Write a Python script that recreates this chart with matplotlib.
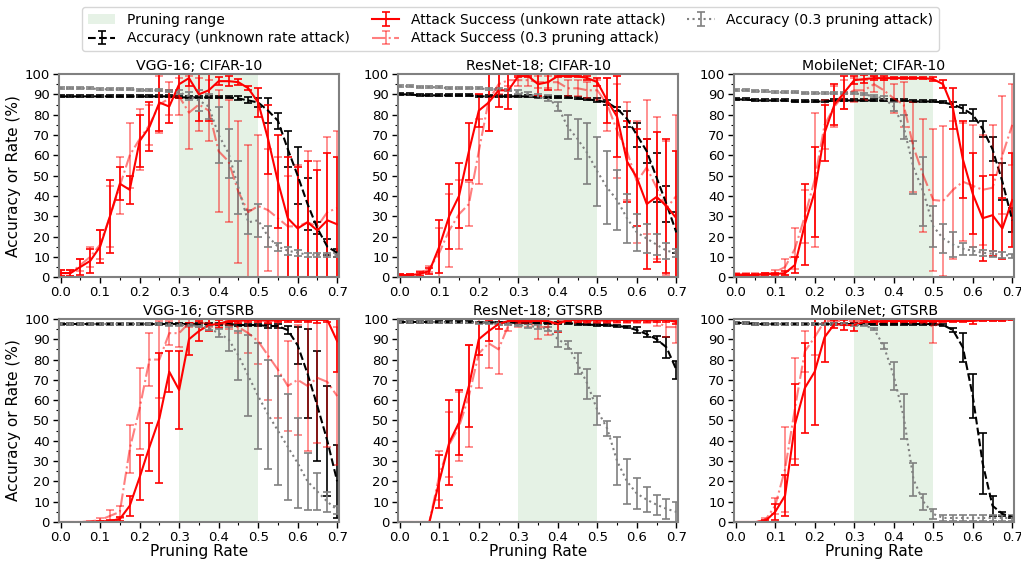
import matplotlib
matplotlib.use("Agg")
import matplotlib.pyplot as plt
from matplotlib.patches import Patch
from matplotlib.ticker import MultipleLocator

pruning_rates = [0.0, 0.025, 0.05, 0.075, 0.1, 0.125, 0.15, 0.175, 0.2, 0.225,
                 0.25, 0.275, 0.3, 0.325, 0.35, 0.375, 0.4, 0.425, 0.45, 0.475,
                 0.5, 0.525, 0.55, 0.575, 0.6, 0.625, 0.65, 0.675, 0.7]
x_ticks = [0.0, 0.1, 0.2, 0.3, 0.4, 0.5, 0.6, 0.7]
y_ticks = [0, 10, 20, 30, 40, 50, 60, 70, 80, 90, 100]
pruning_range = [0.3, 0.5]

titles = ["VGG-16; CIFAR-10", "ResNet-18; CIFAR-10", "MobileNet; CIFAR-10",
          "VGG-16; GTSRB", "ResNet-18; GTSRB", "MobileNet; GTSRB"]
labels = ["Pruning range", "Accuracy (unknown rate attack)",
          "Attack Success (unkown rate attack)", "Attack Success (0.3 pruning attack)",
          "Accuracy (0.3 pruning attack)"]

# ---------------- VGG-16; CIFAR-10 ----------------
vgg_c_atk_unk = [2, 2, 5, 8, 15, 30, 46, 43, 67, 74, 86, 84, 95, 98, 90, 92, 96.5, 96.5, 96, 93, 86, 68, 47, 29, 24, 27, 23, 28, 26]
vgg_c_atk_unk_err = [1.5, 1.5, 4, 6, 8, 18, 8, 7, 13, 12, 14, 8, 7, 4, 13, 15, 2, 2.5, 1.5, 1, 7, 17, 23, 30, 30, 30, 30, 33, 33]
vgg_c_atk_03 = [2, 2, 6, 10, 16, 30, 45, 60, 68, 75, 85, 88, 89, 81, 85, 82, 62, 57, 42, 32, 35, 33, 29, 25, 25, 27, 25, 32, 34]
vgg_c_atk_03_err = [1.5, 1.5, 3, 5, 7, 15, 14, 16, 15, 10, 14, 8, 9, 18, 13, 15, 30, 30, 35, 33, 35, 30, 30, 25, 30, 35, 32, 37, 38]
vgg_c_acc_unk = [89, 89, 89, 89, 89, 89, 89, 89, 89, 89, 89, 89, 88.5, 88.5, 88.5, 88.5, 88.5, 88.5, 88, 87, 86, 82, 77, 63, 50, 36, 24, 15, 12]
vgg_c_acc_unk_err = [0.5, 0.5, 0.5, 0.5, 0.5, 0.5, 0.5, 0.5, 0.5, 0.5, 0.5, 0.5, 0.5, 0.5, 0.5, 0.5, 0.5, 0.5, 1, 1.5, 2, 6, 4, 9, 14, 13, 3, 4, 2]
vgg_c_acc_03 = [93, 93, 93, 93, 92.5, 92.5, 92.5, 92.5, 92, 92, 92, 91.5, 91, 89, 87, 84, 70, 61, 44, 27, 28, 20, 15, 13, 12, 11, 11, 11, 11]
vgg_c_acc_03_err = [0.5, 0.5, 0.5, 0.5, 0.5, 0.5, 0.5, 0.5, 0.5, 0.5, 0.5, 0.5, 1, 2, 5, 6, 14, 12, 13, 6, 8, 5, 2, 2, 1.5, 1, 1, 1, 1]

# ---------------- ResNet-18; CIFAR-10 ----------------
res_c_atk_unk = [1, 1, 1.5, 3, 15, 30, 40, 62, 82, 86, 92, 92, 99, 99, 95, 96, 99, 99, 99, 98, 96, 87, 79, 57, 49, 36, 39.5, 35, 29]
res_c_atk_unk_err = [0.5, 0.5, 1, 1.5, 13, 16, 16, 14, 8, 14, 8, 9, 0.5, 0.5, 6, 4, 0.5, 0.5, 0.5, 1, 2, 11, 20, 20, 24, 32, 32, 33, 33]
res_c_atk_03 = [1, 1, 2, 4, 12, 23, 31, 36, 62, 87, 95, 97, 97, 97, 96, 96, 96, 93, 93, 92, 92, 85, 72, 62, 47, 54, 44, 34, 40]
res_c_atk_03_err = [0.5, 0.5, 1, 1.5, 12, 18, 17, 11, 16, 15, 5, 3, 3, 3, 3, 3, 4, 4, 4, 4, 5, 13, 23, 24, 30, 33, 35, 33, 40]
res_c_acc_unk = [90, 90, 89.5, 89.5, 89.5, 89.5, 89.5, 89.5, 89, 89, 89, 89, 89, 89, 88.5, 88.5, 88.5, 88.5, 88, 87.5, 87, 86, 83, 78, 70, 62, 49, 36, 22]
res_c_acc_unk_err = [0.5, 0.5, 0.5, 0.5, 0.5, 0.5, 0.5, 0.5, 0.5, 0.5, 0.5, 0.5, 0.5, 0.5, 0.5, 0.5, 0.5, 0.5, 0.5, 0.5, 1, 1, 1, 4, 6, 6, 12, 9, 10]
res_c_acc_03 = [94, 94, 93.5, 93.5, 93.5, 93, 93, 93, 93, 92.5, 92.5, 92, 91, 90, 89, 88, 84, 74, 68, 61, 52, 44, 38, 29, 22, 19, 16, 13, 12]
res_c_acc_03_err = [0.5, 0.5, 0.5, 0.5, 0.5, 0.5, 0.5, 0.5, 0.5, 0.5, 0.5, 0.5, 1, 1, 1, 1.5, 2, 6, 10, 15, 17, 18, 15, 12, 9, 7, 5, 4, 2]

# ---------------- MobileNet; CIFAR-10 ----------------
mob_c_atk_unk = [1, 1, 1, 1.5, 1.5, 2, 6, 26, 42, 71, 85, 91, 97, 97.5, 98, 98, 98, 98, 98, 98, 97.5, 95, 83, 58, 41, 29, 30.5, 24, 38]
mob_c_atk_unk_err = [0.5, 0.5, 0.5, 0.5, 0.5, 1, 4, 20, 22, 14, 10, 8, 2, 2, 1, 1, 0.5, 0.5, 0.5, 0.5, 1, 2, 10, 19, 20, 21, 20, 15, 23]
mob_c_atk_03 = [1.5, 1.5, 1.5, 1.5, 2.5, 5, 14, 30, 48, 75, 84, 90, 92, 92, 95, 92, 88, 85, 64, 50, 38, 37.5, 43, 47, 45, 43, 44, 60, 75]
mob_c_atk_03_err = [0.5, 0.5, 0.5, 0.5, 1, 4, 10, 13, 33, 12, 10, 7, 6, 5, 4, 5, 7, 11, 22, 28, 35, 37, 34, 29, 30, 27, 31, 29, 20]
mob_c_acc_unk = [87.5, 87.5, 87, 87, 87, 87, 86.5, 86.5, 86.5, 86.5, 87, 87, 87, 87, 87, 87, 87, 87, 86.5, 86.5, 86.5, 86, 85, 83, 80, 73, 63, 47, 28]
mob_c_acc_unk_err = [0.5, 0.5, 0.5, 0.5, 0.5, 0.5, 0.5, 0.5, 0.5, 0.5, 0.5, 0.5, 0.5, 0.5, 0.5, 0.5, 0.5, 0.5, 0.5, 0.5, 0.5, 0.5, 1, 2, 3, 4, 6, 9, 6]
mob_c_acc_03 = [92, 92, 91.5, 91.5, 91, 91, 91, 90.5, 90.5, 90.5, 90.5, 90.5, 90.5, 90, 89, 88, 84, 74, 54, 42, 25, 19, 16, 14, 13, 12, 11.5, 11, 10.5]
mob_c_acc_03_err = [0.5, 0.5, 0.5, 0.5, 0.5, 0.5, 0.5, 0.5, 0.5, 0.5, 0.5, 0.5, 0.5, 0.5, 0.5, 1, 2, 6, 13, 17, 10, 7, 6, 3, 2, 1.5, 1.5, 1.5, 1]

# ---------------- VGG-16; GTSRB ----------------
vgg_g_atk_unk = [0, 0, 0, 0, 0.3, 0.5, 1.5, 8, 22, 37, 51, 74, 65, 90, 94, 97, 97.5, 99, 99, 99.5, 99.5, 99, 99.5, 99.5, 99.5, 99.5, 99.5, 99.5, 89]
vgg_g_atk_unk_err = [0, 0, 0, 0, 0.3, 0.5, 1, 5, 11, 12, 32, 10, 19, 8, 5, 3, 2, 1, 1, 1, 1, 1, 1, 1, 1, 1, 1.5, 1, 15]
vgg_g_atk_03 = [0, 0, 0, 0.3, 1, 3, 5, 36, 56, 80, 80, 93, 93, 98, 98, 98, 98, 97, 96, 93, 89, 82, 75, 67, 70, 67, 71, 69, 62]
vgg_g_atk_03_err = [0, 0, 0, 0.3, 1, 3, 3, 12, 20, 13, 19, 6, 7, 2, 2, 2, 2, 2, 3, 10, 11, 22, 24, 22, 27, 32, 32, 32, 34]
vgg_g_acc_unk = [97.5, 97.5, 97.5, 97.5, 97.5, 97.5, 97.5, 97.5, 97.5, 97.5, 97.5, 97.5, 97.5, 97.5, 97.5, 97.5, 97.5, 97.5, 97, 97, 97, 96.5, 96.5, 94.5, 87, 73, 57, 40, 20]
vgg_g_acc_unk_err = [0.5, 0.5, 0.5, 0.5, 0.5, 0.5, 0.5, 0.5, 0.5, 0.5, 0.5, 0.5, 0.5, 0.5, 0.5, 0.5, 0.5, 0.5, 0.5, 0.5, 0.5, 1, 1, 2, 9, 22, 27, 27, 18]
vgg_g_acc_03 = [97.5, 97.5, 97.5, 97.5, 97.5, 97.5, 97.5, 97.5, 97.5, 97.5, 97.5, 97, 97, 97, 96.5, 95.5, 93, 90, 82, 72, 62, 53, 45, 37, 29, 20, 15, 10, 6]
vgg_g_acc_03_err = [0.5, 0.5, 0.5, 0.5, 0.5, 0.5, 0.5, 0.5, 0.5, 0.5, 0.5, 0.5, 0.5, 0.5, 0.5, 1, 2, 6, 12, 20, 26, 27, 27, 26, 22, 14, 9, 5, 2]

# ---------------- ResNet-18; GTSRB ----------------
res_g_atk_unk = [0, 0, 0, 0, 20, 39, 49, 67, 90, 94, 97.5, 99, 99, 99, 99, 99, 97.5, 99.5, 99.5, 99.5, 99.5, 99.5, 99.5, 99.5, 99.5, 99.5, 99.5, 99.5, 98.5]
res_g_atk_unk_err = [0, 0, 0, 0, 13, 21, 16, 20, 8, 5, 2.5, 1, 1, 1, 1, 1, 4, 1, 1, 1, 1, 1, 1, 1, 1, 1, 1, 1, 1]
res_g_atk_03 = [0, 0, 0, 0, 23, 38, 47, 62, 83, 88, 85, 97, 98, 98, 96, 96, 99, 99, 99, 99, 99, 99, 99, 99, 99, 99, 98.5, 96, 96]
res_g_atk_03_err = [0, 0, 0, 0, 12, 16, 17, 25, 17, 12, 12, 3, 2, 2, 6, 4, 1, 1, 1, 1, 1, 1, 1, 1, 1, 1, 2, 5, 8]
res_g_acc_unk = [98.5, 98.5, 98.5, 98.5, 98.5, 98.5, 98.5, 98.5, 98.3, 98.3, 98.3, 98.2, 98, 98, 98, 98, 98, 98, 97.5, 97.2, 97, 97, 96.5, 96, 94.5, 92.5, 90, 86, 75]
res_g_acc_unk_err = [0.3, 0.3, 0.3, 0.3, 0.3, 0.3, 0.3, 0.3, 0.3, 0.3, 0.3, 0.3, 0.3, 0.3, 0.3, 0.3, 0.3, 0.3, 0.3, 0.3, 0.3, 0.3, 0.5, 0.5, 1.5, 1.5, 1.5, 5, 4.5]
res_g_acc_03 = [98.5, 98.5, 98.5, 98.5, 98.3, 98.3, 98.2, 98.2, 98, 98, 97.5, 97.5, 97, 96.5, 96, 95, 90, 87, 78, 68, 55, 46, 30, 20, 14, 11, 8.5, 6.5, 5]
res_g_acc_03_err = [0.3, 0.3, 0.3, 0.3, 0.3, 0.3, 0.3, 0.3, 0.3, 0.3, 0.3, 0.3, 0.5, 1, 1, 1, 4, 2, 5, 7.5, 7, 3.5, 12, 11, 7.5, 6, 5, 5, 5]

# ---------------- MobileNet; GTSRB ----------------
mob_g_atk_unk = [0, 0, 0, 0.5, 5, 13, 48, 66, 74, 91, 97.5, 97, 97, 98.5, 98.5, 99, 99, 99, 99, 99, 99, 99, 99, 99, 99, 99.5, 99.5, 99.5, 100]
mob_g_atk_unk_err = [0, 0, 0, 0.5, 4, 10, 20, 22, 26, 12, 2, 2.5, 3, 1, 1, 0.5, 0.5, 0.5, 0.5, 0.5, 0.5, 0.5, 0.5, 0.5, 1.5, 0.5, 0.5, 0.5, 0.3]
mob_g_atk_03 = [0, 0, 0, 1, 8, 26, 56, 84, 91, 99, 99, 99, 99, 99, 99, 99, 99, 99, 99, 99, 96, 99.5, 99.5, 99.5, 99.5, 99.5, 99.5, 99.5, 100]
mob_g_atk_03_err = [0, 0, 0, 1, 4, 21, 25, 10, 9, 1, 1, 1, 1, 1, 1, 1, 1, 1, 1, 1, 8, 0.5, 0.5, 0.5, 0.5, 0.5, 0.5, 0.5, 0.3]
mob_g_acc_unk = [98, 98, 97.5, 97.5, 97.5, 97.5, 97.5, 97.5, 97.5, 97.5, 97.5, 97.5, 97.5, 97.5, 97.5, 97.5, 97.5, 97.5, 97.5, 97.5, 97.5, 97, 94.5, 86, 62, 29, 8, 4, 2.5]
mob_g_acc_unk_err = [0.3, 0.3, 0.3, 0.3, 0.3, 0.3, 0.3, 0.3, 0.3, 0.3, 0.3, 0.3, 0.3, 0.3, 0.3, 0.3, 0.3, 0.3, 0.3, 0.3, 0.3, 0.5, 1, 7, 11, 15, 5, 1, 0.5]
mob_g_acc_03 = [98, 98, 97.5, 97.5, 97.5, 97.5, 97.5, 97.5, 97.5, 97.5, 97.5, 97.5, 97, 97, 95, 86.5, 72, 52, 21, 10, 4, 2, 2, 2, 2, 2, 2, 2, 2]
mob_g_acc_03_err = [0.3, 0.3, 0.3, 0.3, 0.3, 0.3, 0.3, 0.3, 0.3, 0.3, 0.3, 0.3, 0.3, 0.3, 0.3, 1.5, 7, 11, 8, 4, 2.5, 1.5, 1.5, 1.5, 1.5, 1.5, 1.5, 1.5, 1.5]

panels = [
    (vgg_c_acc_unk, vgg_c_acc_unk_err, vgg_c_atk_unk, vgg_c_atk_unk_err, vgg_c_atk_03, vgg_c_atk_03_err, vgg_c_acc_03, vgg_c_acc_03_err),
    (res_c_acc_unk, res_c_acc_unk_err, res_c_atk_unk, res_c_atk_unk_err, res_c_atk_03, res_c_atk_03_err, res_c_acc_03, res_c_acc_03_err),
    (mob_c_acc_unk, mob_c_acc_unk_err, mob_c_atk_unk, mob_c_atk_unk_err, mob_c_atk_03, mob_c_atk_03_err, mob_c_acc_03, mob_c_acc_03_err),
    (vgg_g_acc_unk, vgg_g_acc_unk_err, vgg_g_atk_unk, vgg_g_atk_unk_err, vgg_g_atk_03, vgg_g_atk_03_err, vgg_g_acc_03, vgg_g_acc_03_err),
    (res_g_acc_unk, res_g_acc_unk_err, res_g_atk_unk, res_g_atk_unk_err, res_g_atk_03, res_g_atk_03_err, res_g_acc_03, res_g_acc_03_err),
    (mob_g_acc_unk, mob_g_acc_unk_err, mob_g_atk_unk, mob_g_atk_unk_err, mob_g_atk_03, mob_g_atk_03_err, mob_g_acc_03, mob_g_acc_03_err),
]

plt.rcParams['font.family'] = ['DejaVu Sans']
fig = plt.figure(figsize=(10.21, 5.61), dpi=100)

lefts = [0.0578, 0.390, 0.719]
bottoms = [0.506, 0.0695]
w, h = 0.274, 0.362

handles = None
for i, (acc_u, acc_u_e, atk_u, atk_u_e, atk_3, atk_3_e, acc_3, acc_3_e) in enumerate(panels):
    r, c = divmod(i, 3)
    ax = fig.add_axes([lefts[c], bottoms[r], w, h])
    ax.axvspan(pruning_range[0], pruning_range[1], color='green', alpha=0.1, lw=0)
    kw = dict(capsize=3, elinewidth=1.2, capthick=1.2, lw=1.5)
    h1 = ax.errorbar(pruning_rates, acc_u, yerr=acc_u_e, color='black', ls='--', **kw)
    h2 = ax.errorbar(pruning_rates, atk_u, yerr=atk_u_e, color='red', ls='-', **kw)
    h3 = ax.errorbar(pruning_rates, atk_3, yerr=atk_3_e, color='red', alpha=0.5, ls='-.', **kw)
    h4 = ax.errorbar(pruning_rates, acc_3, yerr=acc_3_e, color='gray', ls=':', **kw)
    if handles is None:
        handles = [Patch(facecolor=(0.9, 0.95, 0.9), edgecolor='none'), h1, h2, h3, h4]
    ax.set_xlim(-0.004, 0.704)
    ax.set_ylim(0, 100)
    ax.set_xticks(x_ticks)
    ax.set_yticks(y_ticks)
    ax.xaxis.set_minor_locator(MultipleLocator(0.05))
    ax.yaxis.set_minor_locator(MultipleLocator(5))
    ax.tick_params(labelsize=9.5, length=4, width=1, pad=2.5)
    ax.tick_params(which='minor', length=2.5, width=0.8)
    for sp in ax.spines.values():
        sp.set_color('#808080')
        sp.set_linewidth(1.5)
    ax.set_title(titles[i], fontsize=10.2, pad=3)
    if c == 0:
        ax.set_ylabel("Accuracy or Rate (%)", fontsize=11, labelpad=3)
    if r == 1:
        ax.set_xlabel("Pruning Rate", fontsize=11, labelpad=0)

fig.legend(handles, labels, loc='upper center', ncol=3, bbox_to_anchor=(0.5, 0.995),
           fontsize=10, frameon=True, handlelength=2.0, columnspacing=1.6,
           borderaxespad=0.3, labelspacing=0.35)

fig.savefig("out.png", dpi=100)
